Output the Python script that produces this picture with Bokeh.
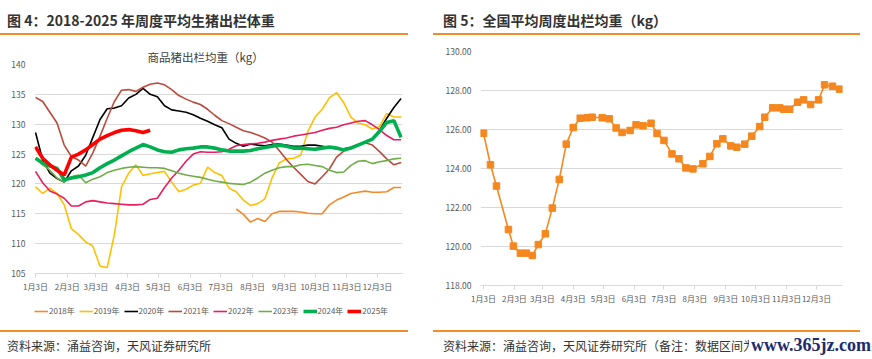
from bokeh.plotting import figure
from bokeh.models import Range1d, FixedTicker, Legend, LegendItem, Div
from bokeh.layouts import column, row
from bokeh.embed import file_html
from bokeh.resources import INLINE

FONT = "Noto Sans CJK SC"
ORANGE_RULE = "#F28C28"
GRID = "#D9D9D9"
TICK_TXT = "#595959"

# ---------------- data ----------------
# x positions: days counted from 1月3日
month_ticks = [0, 31, 59, 90, 120, 151, 181, 212, 243, 273, 304, 334]
month_labels = ["1月3日", "2月3日", "3月3日", "4月3日", "5月3日", "6月3日",
                "7月3日", "8月3日", "9月3日", "10月3日", "11月3日", "12月3日"]
week_days = list(range(0, 358, 7))  # 52 weekly points

y2018 = [115.8, 114.9, 113.6, 114.2, 113.7, 115.0, 115.4, 115.4, 115.4, 115.3, 115.1, 115.0,
         115.0, 116.5, 117.3, 117.8, 118.4, 118.6, 118.8, 118.6, 118.6, 118.7, 119.4, 119.4]
y2019 = [119.5, 118.4, 119.3, 118.4, 116.5, 112.5, 111.5, 110.3, 109.6, 106.2, 106.0, 111.5,
         119.5, 121.8, 123.2, 121.4, 121.7, 121.9, 122.1, 120.3, 118.7, 119.1, 119.8, 120.1,
         122.8, 121.9, 121.4, 119.3, 118.7, 117.3, 116.4, 116.7, 117.5, 121.0, 123.5, 124.2,
         124.3, 124.8, 128.8, 131.2, 132.5, 134.4, 135.3, 133.6, 131.2, 130.2, 129.9, 129.2,
         129.6, 131.8, 131.2, 131.2]
y2020 = [128.6, 124.0, 121.8, 120.9, 120.3, 122.2, 123.0, 124.8, 127.8, 130.8, 132.6, 132.7,
         133.1, 134.4, 135.0, 136.0, 135.0, 134.6, 133.1, 132.4, 132.2, 132.0, 131.6, 131.0,
         130.5, 129.9, 129.4, 127.5, 126.8, 126.3, 126.7, 126.5, 126.4, 126.6, 126.7, 126.5,
         126.3, 126.3, 126.5, 126.5, 126.3, 126.1, 125.9, 125.9, 126.1, 126.5, 127.0, 127.6,
         129.0, 131.0, 132.8, 134.3]
y2021 = [134.5, 133.8, 132.0, 130.2, 126.5, 124.6, 124.0, 123.0, 125.2, 128.0, 131.0, 133.8,
         135.7, 135.8, 135.5, 136.2, 136.7, 136.9, 136.6, 135.8, 134.8, 134.2, 133.7, 133.3,
         132.5, 131.5, 130.6, 130.1, 129.5, 128.9, 128.6, 128.2, 127.7, 127.0, 125.6, 124.1,
         122.8, 121.6, 120.4, 120.0, 121.2, 122.5, 124.5, 125.5, 126.2, 126.6, 126.9, 126.5,
         125.4, 124.2, 123.2, 123.6]
y2022 = [122.1, 120.2, 118.8, 118.3, 117.6, 116.3, 116.3, 117.0, 117.2, 117.0, 116.8, 116.7,
         116.6, 116.5, 116.5, 116.6, 117.4, 117.6, 119.4, 121.0, 122.3, 123.8, 125.0, 125.4,
         125.3, 125.3, 125.4, 125.8, 126.4, 126.6, 126.7, 126.8, 127.0, 127.3, 127.5, 127.7,
         128.0, 128.2, 128.4, 128.6, 129.0, 129.3, 129.5, 129.9, 130.2, 130.5, 130.6, 129.9,
         129.1, 128.1, 127.4, 127.4]
y2023 = [124.3, 123.2, 122.3, 121.0, 120.3, 121.2, 121.5, 120.2, 120.8, 121.2, 121.9, 122.3,
         122.6, 122.8, 122.9, 122.8, 122.7, 122.7, 122.6, 122.2, 121.8, 121.5, 121.3, 121.1,
         120.8, 120.5, 120.3, 120.1, 120.0, 119.9, 120.3, 121.0, 121.8, 122.3, 122.7, 122.9,
         122.9, 123.2, 123.3, 123.1, 122.9, 122.3, 121.9, 122.0, 123.1, 123.8, 123.9, 123.4,
         123.7, 123.9, 124.2, 124.3]
y2024 = [124.3, 123.5, 123.0, 122.6, 120.7, 121.0, 121.2, 121.5, 121.9, 122.7, 123.4, 124.0,
         124.7, 125.4, 126.0, 126.6, 126.2, 125.7, 125.4, 125.3, 125.7, 125.9, 126.0, 126.2,
         126.2, 126.0, 125.7, 125.5, 125.5, 125.5, 125.6, 125.9, 126.1, 126.3, 126.5, 126.3,
         126.0, 126.0, 125.9, 125.8, 126.0, 126.2, 126.0, 125.7, 126.0, 126.5, 127.0, 127.5,
         128.8, 130.3, 130.6, 127.8]
y2025 = [126.2, 124.3, 123.2, 122.3, 121.5, 124.5, 125.0, 125.7, 126.6, 127.5, 128.1, 128.6,
         129.0, 129.1, 128.9, 128.6, 129.0]

series_names = ["2018年", "2019年", "2020年", "2021年", "2022年", "2023年", "2024年", "2025年"]
series_vals = [y2018, y2019, y2020, y2021, y2022, y2023, y2024, y2025]
series_start = [28, 0, 0, 0, 0, 0, 0, 0]   # index of first week with data
series_colors = ["#F28A2A", "#FFC000", "#000000", "#BA4A3C", "#E91E5F", "#70AD47", "#00B050", "#FF0000"]
series_widths = [1.6, 1.6, 1.6, 1.6, 1.6, 1.6, 3.6, 3.6]

left_y_ticks = [105, 110, 115, 120, 125, 130, 135, 140]

# Figure 5: national weekly average weight
fig5_days = [0, 7, 13, 25, 30, 37, 43, 49, 55, 62, 69, 76, 83, 90, 97, 104, 109, 119, 126, 133,
             139, 147, 153, 160, 168, 174, 181, 189, 196, 203, 210, 220, 227, 234, 240, 248,
             254, 262, 269, 277, 282, 290, 297, 301, 307, 315, 321, 328, 336, 342, 350, 357]
fig5_vals = [125.81, 124.19, 123.10, 120.87, 120.02, 119.66, 119.66, 119.54, 120.10, 120.65,
             121.97, 123.44, 125.25, 126.10, 126.58, 126.60, 126.63, 126.60, 126.55, 126.08,
             125.85, 125.95, 126.24, 126.19, 126.32, 125.80, 125.44, 124.75, 124.50, 124.03,
             123.98, 124.24, 124.62, 125.27, 125.52, 125.16, 125.09, 125.25, 125.66, 126.15,
             126.63, 127.11, 127.11, 127.04, 127.04, 127.40, 127.52, 127.28, 127.52, 128.29,
             128.22, 128.07]
right_y_ticks = [118, 120, 122, 124, 126, 128, 130]

title_left = "图 4：2018-2025 年周度平均生猪出栏体重"
title_right = "图 5：全国平均周度出栏均重（kg）"
chart_title_left = "商品猪出栏均重（kg）"
source_left = "资料来源：涌益咨询，天风证券研究所"
source_right = "资料来源：涌益咨询，天风证券研究所（备注：数据区间为2024年）"
watermark = "www.365jz.com"


# ---------------- helpers ----------------
def style_axes(p, yticks, ylabel_fmt=None, xfont="8px", yfont="8.5px"):
    p.outline_line_color = None
    p.background_fill_color = "white"
    p.border_fill_color = "white"
    p.xgrid.visible = False
    p.ygrid.grid_line_color = GRID
    p.ygrid.grid_line_width = 1
    p.yaxis.ticker = FixedTicker(ticks=yticks)
    if ylabel_fmt:
        p.yaxis.major_label_overrides = {t: ylabel_fmt.format(t) for t in yticks}
    p.yaxis.axis_line_color = None
    p.yaxis.major_tick_line_color = None
    p.yaxis.minor_tick_line_color = None
    p.yaxis.major_label_standoff = 3
    p.yaxis.major_label_text_font = FONT
    p.yaxis.major_label_text_font_size = yfont
    p.yaxis.major_label_text_color = TICK_TXT
    p.xaxis.ticker = FixedTicker(ticks=month_ticks)
    p.xaxis.major_label_overrides = dict(zip(month_ticks, month_labels))
    p.xaxis.axis_line_color = GRID
    p.xaxis.major_tick_line_color = GRID
    p.xaxis.major_tick_out = 4
    p.xaxis.major_tick_in = 0
    p.xaxis.minor_tick_line_color = None
    p.xaxis.major_label_standoff = 3
    p.xaxis.major_label_text_font = FONT
    p.xaxis.major_label_text_font_size = xfont
    p.xaxis.major_label_text_color = TICK_TXT


def header_div(text, width, pad_left):
    html = ('<div style="font-family:\'Noto Sans CJK SC\';font-size:14px;font-weight:bold;'
            'color:#333333;line-height:24px;padding-top:8px;white-space:nowrap;'
            'padding-left:%dpx;">%s</div>' % (pad_left, text))
    return Div(text=html, width=width, height=33, margin=0)


def rule_div(width):
    return Div(text="", width=width, height=2, margin=0,
               styles={"background-color": ORANGE_RULE})


def footer_div(text, width, pad_left, extra=""):
    html = ('<div style="position:relative;font-family:\'Noto Sans CJK SC\';font-size:12px;'
            'color:#333333;line-height:17px;padding-top:5px;white-space:nowrap;'
            'padding-left:%dpx;">%s%s</div>' % (pad_left, text, extra))
    return Div(text=html, width=width, height=26, margin=0)


# ---------------- left chart ----------------
p1 = figure(width=433, height=261, x_range=Range1d(-1, 358.4), y_range=Range1d(105, 140),
            output_backend="svg", toolbar_location=None,
            min_border_left=34, min_border_right=31, min_border_top=29, min_border_bottom=23,
            title=chart_title_left)
p1.title.text_font = FONT
p1.title.text_font_size = "11.5px"
p1.title.text_font_style = "normal"
p1.title.text_color = "#404040"
p1.title.align = "left"
p1.title.offset = 113
p1.title.standoff = 0
style_axes(p1, left_y_ticks)

for vals, start, col, w in zip(series_vals, series_start, series_colors, series_widths):
    xs = week_days[start:start + len(vals)]
    p1.line(xs, vals, line_color=col, line_width=w)

# legend strip beneath the chart: same series, drawn outside this strip's visible ranges,
# so that only their legend keys show
pl = figure(width=433, height=34, x_range=Range1d(-1, 358.4), y_range=Range1d(0, 1),
            output_backend="svg", toolbar_location=None,
            x_axis_location=None, y_axis_location=None,
            min_border_left=34, min_border_right=31, min_border_top=0, min_border_bottom=0)
pl.outline_line_color = None
pl.xgrid.visible = False
pl.ygrid.visible = False
items = []
for name, vals, start, col, w in zip(series_names, series_vals, series_start,
                                     series_colors, series_widths):
    xs = week_days[start:start + len(vals)]
    r = pl.line(xs, vals, line_color=col, line_width=w)
    items.append(LegendItem(label=name, renderers=[r]))
leg = Legend(items=items, orientation="horizontal", location=(0, 14))
leg.label_text_font = FONT
leg.label_text_font_size = "8px"
leg.label_text_color = TICK_TXT
leg.glyph_width = 14
leg.glyph_height = 10
leg.label_height = 10
leg.label_standoff = 1
leg.spacing = 4
leg.padding = 0
leg.margin = 0
leg.border_line_color = None
leg.background_fill_alpha = 0
pl.add_layout(leg)

# ---------------- right chart ----------------
p2 = figure(width=427, height=295, x_range=Range1d(-3, 360), y_range=Range1d(118, 130),
            output_backend="svg", toolbar_location=None,
            min_border_left=47, min_border_right=18, min_border_top=16, min_border_bottom=45)
style_axes(p2, right_y_ticks, ylabel_fmt="{:.2f}")
p2.line(fig5_days, fig5_vals, line_color="#F5871F", line_width=1.6)
p2.scatter(fig5_days, fig5_vals, marker="square", size=6.5, fill_color="#F5871F",
           line_color="#F5871F")

# ---------------- layout ----------------
wm = ('<span style="position:absolute;left:316px;top:3px;font-family:\'Liberation Serif\';'
      'font-weight:bold;font-size:18px;line-height:20px;color:#1D2B6E;background:white;'
      'padding:0 2px;">%s</span>' % watermark)

left = column(header_div(title_left, 433, 7), rule_div(408), p1, pl, rule_div(408),
              footer_div(source_left, 433, 7), spacing=0)
right = column(header_div(title_right, 427, 10), rule_div(427), p2, rule_div(427),
               footer_div(source_right, 427, 10, wm), spacing=0)
layout = row(left, right, spacing=0)

open("out.html", "w").write(file_html(layout, INLINE))
